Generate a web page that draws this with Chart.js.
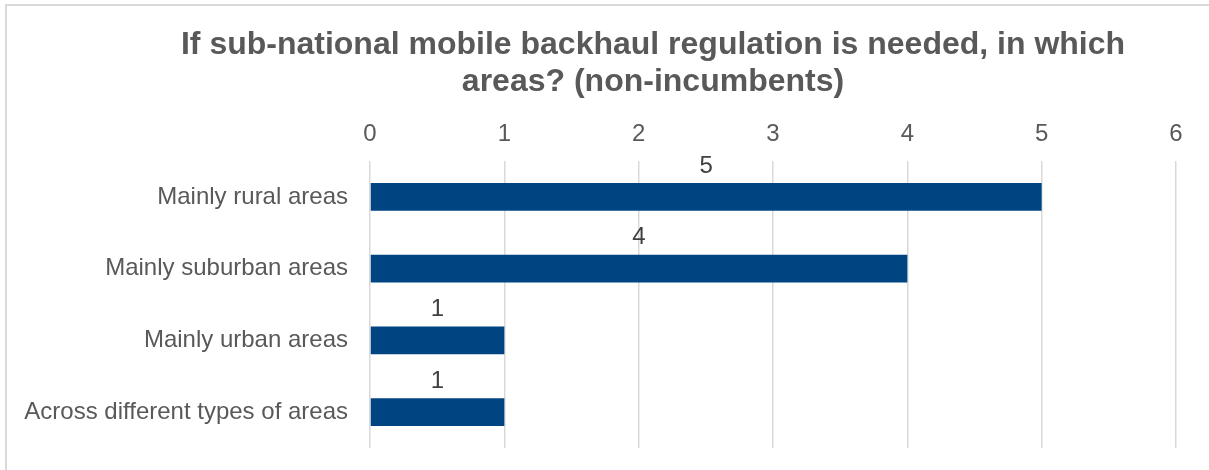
<!DOCTYPE html>
<html>
<head>
<meta charset="utf-8">
<script src="https://cdn.jsdelivr.net/npm/chart.js@4/dist/chart.umd.min.js"></script>
<style>
  body { margin: 0; background: #fff; }
  #wrap { position: relative; width: 1209px; height: 470px; overflow: hidden; }
</style>
</head>
<body>
<div id="wrap"><canvas id="grafico" width="1209" height="470"></canvas></div>
<script>
// dados do gráfico
const tituloLinhas = ['If sub-national mobile backhaul regulation is needed, in which', 'areas? (non-incumbents)'];
const categorias = ['Mainly rural areas', 'Mainly suburban areas', 'Mainly urban areas', 'Across different types of areas'];
const valores = [5, 4, 1, 1];
const eixoMin = 0;
const eixoMax = 6;

const corTexto = '#595959';

// fundo, borda e título
const fundoPlugin = {
    id: 'fundo',
    beforeDraw(chart) {
        const ctx = chart.ctx;
        ctx.save();
        ctx.fillStyle = '#fff';
        ctx.fillRect(0, 0, chart.width, chart.height);
        ctx.strokeStyle = '#d9d9d9';
        ctx.lineWidth = 2;
        ctx.strokeRect(6, 5, 1400, 700);
        ctx.fillStyle = corTexto;
        ctx.font = 'bold 32px "Liberation Sans", Arial, sans-serif';
        ctx.textAlign = 'center';
        ctx.textBaseline = 'middle';
        tituloLinhas.forEach((linha, i) => ctx.fillText(linha, 653, 45 + i * 37));
        ctx.restore();
    }
};

// rótulos de valor acima das barras
const rotulosPlugin = {
    id: 'rotulos',
    afterDatasetsDraw(chart) {
        const ctx = chart.ctx;
        const meta = chart.getDatasetMeta(0);
        ctx.save();
        ctx.fillStyle = '#404040';
        ctx.font = '24px "Liberation Sans", Arial, sans-serif';
        ctx.textAlign = 'center';
        ctx.textBaseline = 'middle';
        meta.data.forEach((barra, i) => {
            const x = (barra.x + barra.base) / 2;
            const y = barra.y - barra.height / 2 - 17;
            ctx.fillText(valores[i], x, y);
        });
        ctx.restore();
    }
};

new Chart(document.getElementById('grafico'), {
    type: 'bar',
    data: {
        labels: categorias,
        datasets: [{
            data: valores,
            backgroundColor: '#004481',
            borderWidth: 0,
            barPercentage: 0.39,
            categoryPercentage: 1
        }]
    },
    options: {
        indexAxis: 'y',
        responsive: false,
        animation: false,
        layout: { padding: { left: 0, right: 33, top: 101, bottom: 22 } },
        plugins: {
            legend: { display: false },
            title: { display: false },
            tooltip: { enabled: false }
        },
        scales: {
            x: {
                position: 'top',
                min: eixoMin,
                max: eixoMax,
                ticks: {
                    stepSize: 1,
                    color: corTexto,
                    padding: 12,
                    font: { family: '"Liberation Sans", Arial, sans-serif', size: 24 }
                },
                grid: { color: '#d9d9d9', lineWidth: 1.5, drawTicks: false },
                border: { display: false },
                afterFit(scale) { scale.height = 60; }
            },
            y: {
                ticks: {
                    color: corTexto,
                    padding: 0,
                    font: { family: '"Liberation Sans", Arial, sans-serif', size: 24 }
                },
                // marcas invisíveis só para afastar os rótulos do eixo
                grid: { color: 'rgba(0,0,0,0)', tickColor: 'rgba(0,0,0,0)', drawTicks: true, tickLength: 22 },
                border: { display: false },
                afterFit(scale) { scale.width = 370; }
            }
        }
    },
    plugins: [fundoPlugin, rotulosPlugin]
});
</script>
</body>
</html>
